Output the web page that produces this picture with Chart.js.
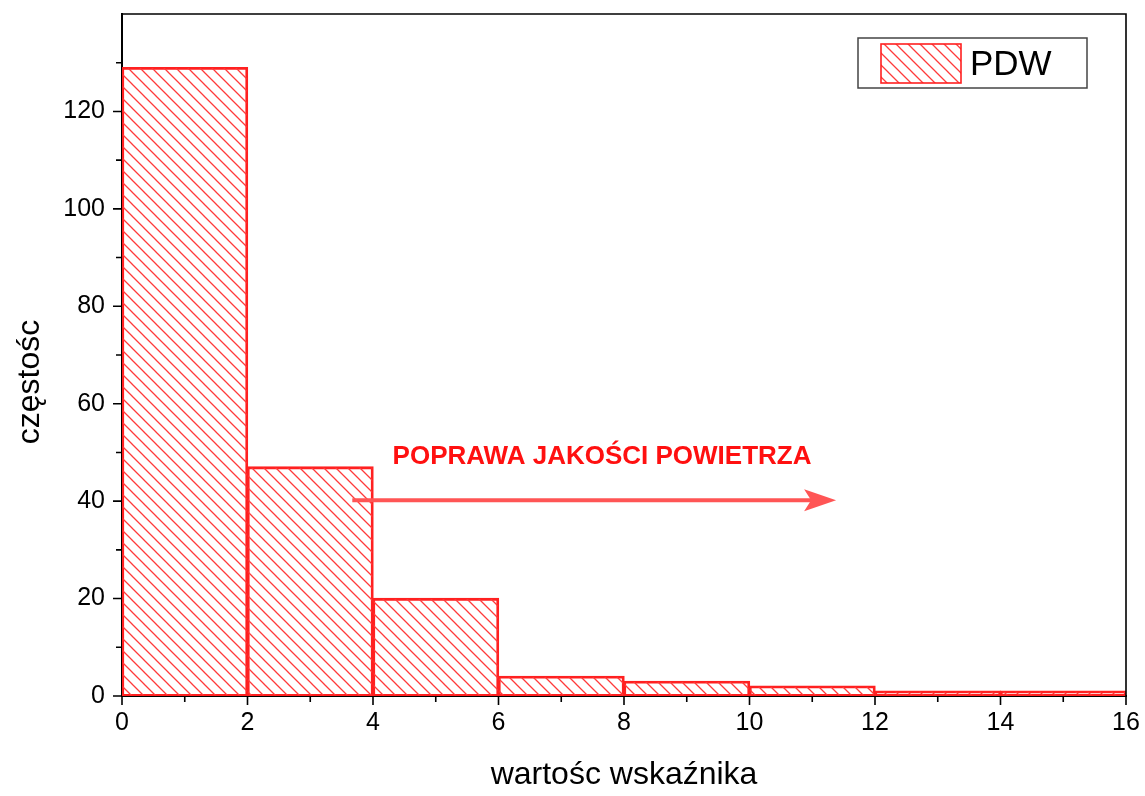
<!DOCTYPE html>
<html>
<head>
<meta charset="utf-8">
<script src="https://cdn.jsdelivr.net/npm/chart.js@4/dist/chart.umd.min.js"></script>
<style>
  html, body { margin: 0; padding: 0; background: #fff; }
  #wrap { width: 1145px; height: 796px; }
</style>
</head>
<body>
<div id="wrap"><canvas id="grafico" width="1145" height="796"></canvas></div>
<script>
// dane histogramu
const binEdges = [0, 2, 4, 6, 8, 10, 12, 14, 16];
const frequencies = [129, 47, 20, 4, 3, 2, 1, 1];
const seriesLabel = 'PDW';
const xTicks = [0, 2, 4, 6, 8, 10, 12, 14, 16];
const yTicks = [0, 20, 40, 60, 80, 100, 120];
const xTitle = 'wartośc wskaźnika';
const yTitle = 'częstośc';
const noteText = 'POPRAWA JAKOŚCI POWIETRZA';

const FONT = '"Liberation Sans", Arial, sans-serif';

function makeHatch(color, gap) {
    let c = document.createElement('canvas');
    c.width = gap;
    c.height = gap;
    let g = c.getContext('2d');
    g.strokeStyle = color;
    g.lineWidth = 1.3;
    g.beginPath();
    g.moveTo(0, 0); g.lineTo(gap, gap);
    g.moveTo(-gap, 0); g.lineTo(gap, 2 * gap);
    g.moveTo(0, -gap); g.lineTo(2 * gap, gap);
    g.stroke();
    return g.createPattern(c, 'repeat');
}

const ctx = document.getElementById('grafico').getContext('2d');
const hatch = makeHatch('#ff3a3a', 12);

let punkty = frequencies.map((f, i) => ({ x: (binEdges[i] + binEdges[i + 1]) / 2, y: f }));

const ramka = {
    id: 'ramka',
    afterDraw(chart) {
        let c = chart.ctx;
        let a = chart.chartArea;
        let xs = chart.scales.x;
        let ys = chart.scales.y;
        c.save();
        // ramka gorna i prawa
        c.strokeStyle = '#000';
        c.lineWidth = 1.6;
        c.beginPath();
        c.moveTo(a.left, a.top); c.lineTo(a.right, a.top); c.lineTo(a.right, a.bottom);
        c.stroke();
        // znaczniki osi
        c.lineWidth = 1.6;
        c.beginPath();
        for (let v = 0; v <= 16; v++) {
            let px = xs.getPixelForValue(v);
            let len = v % 2 === 0 ? 9 : 6;
            c.moveTo(px, a.bottom); c.lineTo(px, a.bottom + len);
        }
        for (let v = 0; v <= 130; v += 10) {
            let py = ys.getPixelForValue(v);
            let len = v % 20 === 0 ? 9 : 6;
            c.moveTo(a.left, py); c.lineTo(a.left - len, py);
        }
        c.stroke();

        // tytul osi y
        c.fillStyle = '#000';
        c.font = '32px ' + FONT;
        c.textAlign = 'center';
        c.textBaseline = 'middle';
        c.translate(30, 382);
        c.rotate(-Math.PI / 2);
        c.fillText(yTitle, 0, 0);
        c.restore();

        // strzalka i napis
        c.save();
        let x0 = xs.getPixelForValue(3.67), x1 = xs.getPixelForValue(11.38);
        let yA = ys.getPixelForValue(40.2);
        c.strokeStyle = '#ff5555';
        c.fillStyle = '#ff5555';
        c.lineWidth = 4;
        c.beginPath();
        c.moveTo(x0, yA); c.lineTo(x1 - 20, yA);
        c.stroke();
        c.beginPath();
        c.moveTo(x1, yA); c.lineTo(x1 - 32, yA - 11); c.lineTo(x1 - 25, yA); c.lineTo(x1 - 32, yA + 11);
        c.closePath();
        c.fill();
        c.fillStyle = '#ff1010';
        c.font = 'bold 26px ' + FONT;
        c.textAlign = 'center';
        c.textBaseline = 'middle';
        c.fillText(noteText, xs.getPixelForValue(7.65), ys.getPixelForValue(49));
        c.restore();

        // legenda
        c.save();
        c.strokeStyle = '#444';
        c.lineWidth = 1.5;
        c.fillStyle = '#fff';
        c.fillRect(858, 38, 229, 50);
        c.strokeRect(858, 38, 229, 50);
        c.fillStyle = hatch;
        c.fillRect(881, 44, 80, 39);
        c.strokeStyle = '#ff2020';
        c.lineWidth = 1.6;
        c.strokeRect(881, 44, 80, 39);
        c.fillStyle = '#000';
        c.font = '35px ' + FONT;
        c.textAlign = 'left';
        c.textBaseline = 'middle';
        c.fillText(chart.data.datasets[0].label, 970, 65);
        c.restore();
    }
};

new Chart(ctx, {
    type: 'bar',
    data: {
        datasets: [{
            label: seriesLabel,
            data: punkty,
            backgroundColor: hatch,
            borderColor: '#ff2020',
            borderWidth: 1.4,
            borderSkipped: false,
            inflateAmount: 0.7,
            barPercentage: 1,
            categoryPercentage: 1
        }]
    },
    options: {
        responsive: false,
        animation: false,
        layout: { padding: { top: 14, right: 19, left: 0, bottom: 0 } },
        plugins: { legend: { display: false }, tooltip: { enabled: false } },
        scales: {
            x: {
                type: 'linear',
                min: 0,
                max: 16,
                offset: false,
                afterBuildTicks: (s) => { s.ticks = xTicks.map(v => ({ value: v })); },
                afterFit: (s) => { s.height = 100; s.paddingLeft = 0; s.paddingRight = 0; },
                grid: { display: false, drawTicks: false, tickLength: 0 },
                border: { display: true, color: '#000', width: 2 },
                ticks: { color: '#000', font: { family: FONT, size: 25 }, padding: 12, maxRotation: 0 },
                title: { display: true, text: xTitle, color: '#000', font: { family: FONT, size: 32 }, padding: { top: 0, bottom: 2 } }
            },
            y: {
                min: 0,
                max: 140,
                afterBuildTicks: (s) => { s.ticks = yTicks.map(v => ({ value: v })); },
                afterFit: (s) => { s.width = 122; s.paddingTop = 0; s.paddingBottom = 0; },
                grid: { display: false, drawTicks: false, tickLength: 0 },
                border: { display: true, color: '#000', width: 2 },
                ticks: { color: '#000', font: { family: FONT, size: 25 }, padding: 17 }
            }
        }
    },
    plugins: [ramka]
});
</script>
</body>
</html>
